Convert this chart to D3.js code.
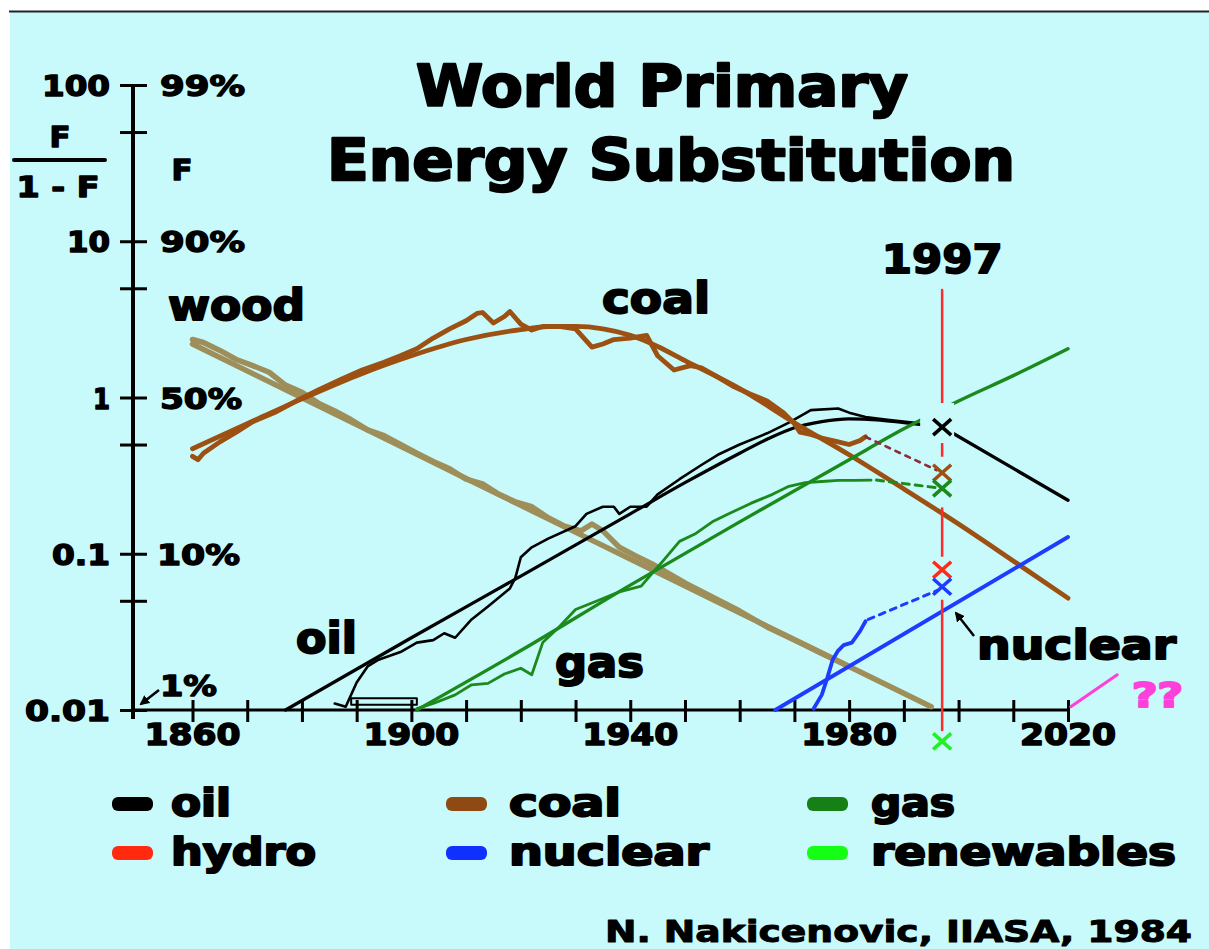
<!DOCTYPE html>
<html>
<head>
<meta charset="utf-8">
<script src="https://cdn.jsdelivr.net/npm/d3@7"></script>
<style>
  html, body { margin: 0; padding: 0; background: #ffffff; }
  svg { display: block; }
  text { font-family: "DejaVu Sans", "Liberation Sans", sans-serif; font-weight: bold; }
</style>
</head>
<body>
<svg id="chart" width="1209" height="949"></svg>
<script>
// ---------- axis ticks ----------
const labelledYears = [1860, 1900, 1940, 1980, 2020];
const ratioTicks = [100, 10, 1, 0.1, 0.01];
const ratioLabels = ["100", "10", "1", "0.1", "0.01"];
const ratioMinorTicks = [50, 5, 0.5, 0.05];
const shareLabels = ["99%", "90%", "50%", "10%"];

// ---------- market share series, F/(1-F) by year ----------
const woodFit = [[1860, 2.2], [1880, 0.995], [1900, 0.451], [1920, 0.204], [1940, 0.0925], [1960, 0.0419], [1980, 0.019], [1995, 0.0105]];
const woodData = [[1860, 2.35], [1862, 2.25], [1865, 2.0], [1868, 1.75], [1871, 1.6], [1874, 1.45], [1877, 1.2], [1880, 1.08],
  [1883, 0.92], [1886, 0.82], [1889, 0.72], [1892, 0.62], [1895, 0.57], [1898, 0.5], [1901, 0.44], [1904, 0.39], [1907, 0.35],
  [1910, 0.3], [1913, 0.28], [1916, 0.24], [1919, 0.215], [1922, 0.2], [1925, 0.17], [1928, 0.15], [1931, 0.14], [1933, 0.155],
  [1935, 0.14], [1938, 0.11], [1941, 0.097], [1944, 0.086], [1947, 0.075], [1950, 0.065], [1955, 0.053], [1960, 0.043],
  [1965, 0.034], [1970, 0.028], [1975, 0.023], [1980, 0.019]];

const coalFit = [[1860, 0.47], [1870, 0.68], [1880, 0.98], [1890, 1.38], [1900, 1.85], [1910, 2.35], [1920, 2.72], [1925, 2.84],
  [1930, 2.85], [1935, 2.75], [1940, 2.5], [1945, 2.12], [1950, 1.72], [1960, 1.14], [1970, 0.69], [1980, 0.43], [1990, 0.26],
  [2000, 0.155], [2010, 0.09], [2020, 0.052]];
const coalData = [[1860, 0.42], [1861, 0.4], [1862, 0.44], [1865, 0.52], [1868, 0.6], [1871, 0.7], [1875, 0.8], [1879, 0.95],
  [1883, 1.12], [1887, 1.3], [1891, 1.5], [1895, 1.68], [1898, 1.85], [1901, 2.05], [1904, 2.4], [1907, 2.75], [1910, 3.1],
  [1912, 3.45], [1913, 3.5], [1915, 3.0], [1917, 3.3], [1918, 3.55], [1920, 2.95], [1922, 2.7], [1924, 2.85], [1927, 2.85],
  [1930, 2.75], [1933, 2.1], [1935, 2.2], [1937, 2.35], [1940, 2.4], [1943, 2.5], [1945, 1.85], [1948, 1.5], [1951, 1.6],
  [1953, 1.55], [1956, 1.35], [1959, 1.17], [1962, 1.05], [1965, 0.95], [1968, 0.8], [1970, 0.68], [1971, 0.6], [1973, 0.58],
  [1975, 0.55], [1978, 0.52], [1980, 0.5], [1982, 0.53], [1983, 0.56]];
const coalTo1997 = [[1983, 0.56], [1997, 0.33]];

const oilFit = [[1877, 0.01], [1900, 0.029], [1920, 0.072], [1940, 0.18], [1950, 0.285], [1960, 0.44], [1965, 0.54], [1970, 0.64],
  [1975, 0.7], [1980, 0.73], [1985, 0.72], [1990, 0.69], [1997, 0.647]];
const oilOutlook = [[1997, 0.647], [2010, 0.352], [2020, 0.22]];
const oilData = [[1886, 0.011], [1888, 0.0105], [1890, 0.015], [1892, 0.019], [1894, 0.021], [1898, 0.0235], [1901, 0.027],
  [1904, 0.028], [1906, 0.031], [1908, 0.029], [1911, 0.038], [1914, 0.046], [1918, 0.06], [1919, 0.07], [1920, 0.095],
  [1922, 0.11], [1925, 0.125], [1930, 0.15], [1932, 0.18], [1935, 0.2], [1937, 0.2], [1938, 0.18], [1940, 0.2], [1943, 0.2],
  [1945, 0.24], [1949, 0.3], [1953, 0.37], [1956, 0.43], [1960, 0.5], [1965, 0.59], [1969, 0.69], [1973, 0.83], [1978, 0.85],
  [1980, 0.8], [1983, 0.75], [1987, 0.72], [1992, 0.69]];
const oilEarly = [[1889, 0.0108], [1889, 0.0119], [1901, 0.0119], [1901, 0.0108], [1889, 0.0108]];

const gasFit = [[1901, 0.01], [1920, 0.024], [1940, 0.063], [1960, 0.16], [1980, 0.4], [1990, 0.63], [2000, 0.95], [2010, 1.38], [2020, 2.05]];
const gasData = [[1901, 0.0102], [1904, 0.011], [1908, 0.0125], [1911, 0.0145], [1914, 0.0148], [1917, 0.017], [1920, 0.0185],
  [1922, 0.0168], [1924, 0.027], [1927, 0.034], [1930, 0.044], [1934, 0.05], [1938, 0.057], [1942, 0.062], [1944, 0.075],
  [1946, 0.09], [1949, 0.12], [1952, 0.135], [1955, 0.16], [1958, 0.18], [1962, 0.21], [1966, 0.24], [1969, 0.27],
  [1972, 0.285], [1975, 0.29], [1978, 0.295], [1981, 0.295], [1984, 0.296]];
const gasTo1997 = [[1985, 0.296], [1997, 0.262]];

const nuclearFit = [[1966.5, 0.01], [2020, 0.128]];
const nuclearData = [[1973.5, 0.0102], [1975, 0.0125], [1976, 0.016], [1977, 0.021], [1978, 0.024], [1979, 0.026],
  [1980.5, 0.027], [1982, 0.032], [1983, 0.037]];
const nuclearTo1997 = [[1983.5, 0.038], [1997, 0.06]];

const newSourceOutlook = [[2020.5, 0.0105], [2029, 0.0168]];

// ---------- 1997 observations ----------
const markYear = 1997;
const markSeries = ["oil", "coal", "gas", "hydro", "nuclear", "renewables"];
const markValues = [0.647, 0.33, 0.262, 0.079, 0.0615, 0.0063];

// ---------- legend ----------
const legendNames = ["oil", "coal", "gas", "hydro", "nuclear", "renewables"];

const colors = {
  oil: "#000000", coal: "#9c5012", gas: "#1b8a1b", hydro: "#ff2a1a",
  nuclear: "#1e3cff", renewables: "#22f022", wood: "#9e8f5a", outlook: "#ff3fd9"
};
const legendColors = {
  oil: "#000000", coal: "#8e4a12", gas: "#158015", hydro: "#ff2a10", nuclear: "#1030ff", renewables: "#14ff14"
};
const bg = "#c8f9fb";

// ---------- drawing ----------
const svg = d3.select("#chart");

svg.append("rect").attr("x", 10).attr("y", 12).attr("width", 1199).attr("height", 937).attr("fill", bg);
svg.append("line").attr("x1", 9).attr("x2", 1209).attr("y1", 11.5).attr("y2", 11.5)
  .attr("stroke", "#222").attr("stroke-width", 2);

const x = d3.scaleLinear().domain([1860, 2020]).range([192.5, 1068]);
const y = d3.scaleLog().domain([0.01, 100]).range([710, 85]);

function put(sel, str, px, py, o) {
  const w = o.w, a = o.anchor || "start";
  const x0 = !w ? px : a === "middle" ? px - w / 2 : a === "end" ? px - w : px;
  const t = sel.append("text")
    .attr("x", x0).attr("y", py)
    .attr("font-size", o.size)
    .attr("fill", o.fill || "#000")
    .attr("stroke", o.fill || "#000")
    .attr("stroke-width", o.sw == null ? 1.4 : o.sw)
    .attr("stroke-linejoin", "round")
    .text(str);
  if (w) t.attr("textLength", w).attr("lengthAdjust", "spacingAndGlyphs");
  else t.attr("text-anchor", a);
  return t;
}

// title
const titleG = svg.append("g");
put(titleG, "World Primary", 662, 106, { size: 57, w: 492, anchor: "middle", sw: 2.4 });
put(titleG, "Energy Substitution", 671, 180, { size: 57, w: 688, anchor: "middle", sw: 2.4 });

// axes
const axisG = svg.append("g");
axisG.append("g")
  .attr("transform", "translate(0,700)")
  .call(d3.axisBottom(x).tickValues(d3.range(1860, 2021, 10)).tickSize(22).tickFormat(""))
  .call(g => g.select(".domain").remove())
  .call(g => g.selectAll(".tick line").attr("stroke", "#000").attr("stroke-width", 3));
axisG.append("g")
  .attr("transform", "translate(120,0)")
  .call(d3.axisRight(y).tickValues(ratioTicks.concat(ratioMinorTicks)).tickSize(27).tickFormat(""))
  .call(g => g.select(".domain").remove())
  .call(g => g.selectAll(".tick line").attr("stroke", "#000").attr("stroke-width", 3));
axisG.append("line").attr("x1", 133).attr("x2", 133).attr("y1", y(100) - 1).attr("y2", 719)
  .attr("stroke", "#000").attr("stroke-width", 4);
axisG.append("line").attr("x1", 131).attr("x2", x(2020) + 1).attr("y1", y(0.01)).attr("y2", y(0.01))
  .attr("stroke", "#000").attr("stroke-width", 3);

// axis labels
const ratioWidths = { "100": 68, "10": 43, "1": 17, "0.1": 58, "0.01": 85 };
const shareWidths = { "99%": 85, "90%": 85, "50%": 82, "10%": 83 };
ratioTicks.forEach((v, i) => {
  put(axisG, ratioLabels[i], 110, y(v) + 11, { size: 28, w: ratioWidths[ratioLabels[i]], anchor: "end" });
  if (i < shareLabels.length)
    put(axisG, shareLabels[i], i === 3 ? 157 : 160, y(v) + 11, { size: 28, w: shareWidths[shareLabels[i]] });
});
put(axisG, "1%", 160, y(0.01) - 14, { size: 28, w: 57 });
labelledYears.forEach(yr => put(axisG, String(yr), x(yr), 745, { size: 31, w: 96, anchor: "middle", sw: 1.6 }));

// F / (1-F) and F headings
put(axisG, "F", 60, 147, { size: 28, w: 21, anchor: "middle" });
axisG.append("line").attr("x1", 14).attr("x2", 105).attr("y1", 160).attr("y2", 160)
  .attr("stroke", "#000").attr("stroke-width", 4).attr("stroke-linecap", "round");
put(axisG, "1 - F", 58, 197, { size: 28, w: 83, anchor: "middle" });
put(axisG, "F", 182, 180, { size: 28, w: 21, anchor: "middle" });

// arrows
svg.append("defs").append("marker")
  .attr("id", "head").attr("viewBox", "0 0 10 10").attr("refX", 8).attr("refY", 5)
  .attr("markerWidth", 4).attr("markerHeight", 4).attr("orient", "auto")
  .append("path").attr("d", "M0,0 L10,5 L0,10 z").attr("fill", "#000");
function arrow(x1, y1, x2, y2) {
  svg.append("line").attr("x1", x1).attr("y1", y1).attr("x2", x2).attr("y2", y2)
    .attr("stroke", "#000").attr("stroke-width", 2.5).attr("marker-end", "url(#head)");
}
arrow(159, 690, 141, 704);

// curves
const smooth = d3.line().x(d => x(d[0])).y(d => y(d[1])).curve(d3.curveMonotoneX);
const raw = d3.line().x(d => x(d[0])).y(d => y(d[1]));
const plot = svg.append("g").attr("fill", "none").attr("stroke-linejoin", "round").attr("stroke-linecap", "round");
function path(data, gen, color, width, dash) {
  const p = plot.append("path").datum(data).attr("d", gen).attr("stroke", color).attr("stroke-width", width);
  if (dash) p.attr("stroke-dasharray", dash);
  return p;
}

path(woodFit, smooth, colors.wood, 5.5);
path(woodData, raw, colors.wood, 5.5);
path(oilFit, smooth, colors.oil, 3.2);
path(oilOutlook, smooth, colors.oil, 3.4);
path(oilData, raw, colors.oil, 2.6);
path(oilEarly, raw, colors.oil, 2);
path(coalFit, smooth, colors.coal, 4.8);
path(coalData, raw, colors.coal, 4.8);
path(gasFit, smooth, colors.gas, 3.4);
path(gasData, raw, colors.gas, 2.8);
path(nuclearFit, raw, colors.nuclear, 3.8);
path(nuclearData, raw, colors.nuclear, 3.8);
path(newSourceOutlook, raw, colors.outlook, 3);

// 1997 reference line
const xm = x(markYear);
plot.append("line").attr("x1", xm).attr("x2", xm).attr("y1", 290).attr("y2", 730)
  .attr("stroke", "#ff2a2a").attr("stroke-width", 2.5);
put(svg, String(markYear), xm, 273, { size: 39, w: 121, anchor: "middle", sw: 1.8 });

// clear space round the 1997 markers
const knock = svg.append("g").attr("fill", bg);
const ym = markValues.map(v => y(v));
knock.append("rect").attr("x", xm - 22).attr("y", ym[0] - 24).attr("width", 34).attr("height", 40);
knock.append("rect").attr("x", xm - 5).attr("y", ym[1] - 16).attr("width", 10).attr("height", ym[2] - ym[1] + 35);
knock.append("rect").attr("x", xm - 5).attr("y", ym[3] - 13).attr("width", 10).attr("height", ym[4] - ym[3] + 26);

// dashed links from last observation to 1997
path(coalTo1997, raw, "#8a2f3a", 2.6, "5,6");
path(gasTo1997, raw, colors.gas, 3, "7,6");
path(nuclearTo1997, raw, colors.nuclear, 3, "6,6");

// 1997 markers
const marks = svg.append("g").attr("stroke-width", 3.6).attr("stroke-linecap", "butt");
markSeries.forEach((s, i) => {
  const cy = y(markValues[i]), hw = 9, hh = 8;
  marks.append("path")
    .attr("d", `M${xm - hw},${cy - hh}L${xm + hw},${cy + hh}M${xm + hw},${cy - hh}L${xm - hw},${cy + hh}`)
    .attr("stroke", colors[s]);
});

// series labels
const lab = svg.append("g");
put(lab, "wood", 168, 320, { size: 43, w: 137, sw: 2 });
put(lab, "coal", 602, 313, { size: 43, w: 108, sw: 2 });
put(lab, "oil", 296, 653, { size: 43, w: 61, sw: 2 });
put(lab, "gas", 555, 677, { size: 43, w: 89, sw: 2 });
put(lab, "nuclear", 977, 659, { size: 40, w: 199, sw: 2 });
put(lab, "??", 1132, 707, { size: 33, w: 51, fill: colors.outlook, sw: 2 });
arrow(974, 636, 956, 613);

// legend
const legendCols = [112, 446, 807];
const legendTextX = [171, 509, 871];
const legendRows = [804, 853];
const legendWidths = { oil: 60, coal: 112, gas: 84, hydro: 145, nuclear: 200, renewables: 305 };
const leg = svg.append("g");
legendNames.forEach((name, i) => {
  const c = i % 3, r = Math.floor(i / 3);
  leg.append("rect").attr("x", legendCols[c]).attr("y", legendRows[r] - 7).attr("width", 41).attr("height", 14)
    .attr("rx", 6).attr("fill", legendColors[name]);
  put(leg, name, legendTextX[c], legendRows[r] + 12, { size: 37, w: legendWidths[name], sw: 2 });
});

// credit
put(svg, "N. Nakicenovic, IIASA, 1984", 605, 942, { size: 30, w: 587, sw: 1 });
</script>
</body>
</html>
